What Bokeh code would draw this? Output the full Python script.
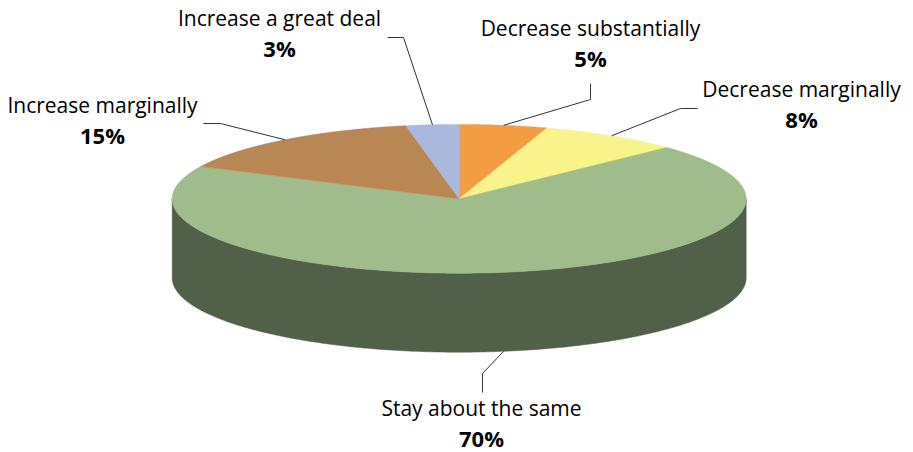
import numpy as np
from bokeh.plotting import figure
from bokeh.models import Range1d
from bokeh.core.properties import value
from bokeh.embed import file_html
from bokeh.resources import INLINE

# ---------------- data ----------------
categories = ["Decrease substantially", "Decrease marginally", "Stay about the same",
              "Increase marginally", "Increase a great deal"]
percents = [5, 8, 70, 15, 3]
pct_labels = ["5%", "8%", "70%", "15%", "3%"]

# ---------------- styles ----------------
top_colors = ["#F39C42", "#F9F38C", "#A0BC8C", "#B98754", "#A9B8DC"]
side_colors = ["#8C5A25", "#908A50", "#506049", "#6A4C2E", "#606A80"]

# ---------------- layout ----------------
W, H = 913, 452
CX, CY, RX, RY, DEPTH = 458.7, 198.3, 287.0, 74.4, 79.0

label_x = [590, 801, 481, 102, 279]
label_base = [27, 88, 407, 104, 17]
pct_gap = 30
# leader line elbows (from label toward the pie)
elbows = [
    [(590, 83), (590, 99)],
    [(697, 108), (680, 108)],
    [(482, 392), (482, 373)],
    [(203, 123), (220, 123)],
    [(387, 37), (403, 37)],
]

p = figure(width=W, height=H, output_backend="svg", toolbar_location=None,
           x_range=Range1d(0, W), y_range=Range1d(H, 0), min_border=0)
p.axis.visible = False
p.grid.visible = False
p.outline_line_color = None
p.background_fill_color = "white"
p.border_fill_color = "white"

total = float(sum(percents))
bounds = np.concatenate([[0.0], np.cumsum(percents) / total * 360.0])


def ex(t):
    return CX + RX * np.sin(np.radians(t))


def ey(t):
    return CY - RY * np.cos(np.radians(t))


# sides (front half only: 90..270 degrees)
for i in range(len(percents)):
    a0, a1 = max(bounds[i], 90.0), min(bounds[i + 1], 270.0)
    if a1 <= a0:
        continue
    t = np.linspace(a0, a1, 200)
    xs = np.concatenate([ex(t), ex(t[::-1])])
    ys = np.concatenate([ey(t), ey(t[::-1]) + DEPTH])
    p.patch(xs, ys, fill_color=side_colors[i], line_color=side_colors[i], line_width=0.5)

# top wedges
for i in range(len(percents)):
    t = np.linspace(bounds[i], bounds[i + 1], 300)
    xs = np.concatenate([[CX], ex(t)])
    ys = np.concatenate([[CY], ey(t)])
    p.patch(xs, ys, fill_color=top_colors[i], line_color=top_colors[i], line_width=0.5)

# leader lines
lx, ly = [], []
for i in range(len(percents)):
    mid = (bounds[i] + bounds[i + 1]) / 2.0
    ax, ay = ex(mid), ey(mid)
    if 90 < mid < 270:
        ay += DEPTH
    pts = elbows[i] + [(ax, ay)]
    lx.append([q[0] for q in pts])
    ly.append([q[1] for q in pts])
p.multi_line(lx, ly, line_color="#333333", line_width=1)

# labels
p.text(x=label_x, y=label_base, text=categories, text_align="center",
       text_baseline="alphabetic", text_font=value("Open Sans"),
       text_font_size="21px", text_color="#000000")
p.text(x=label_x, y=[b + pct_gap for b in label_base], text=pct_labels,
       text_align="center", text_baseline="alphabetic", text_font=value("Open Sans"),
       text_font_size="22px", text_font_style="bold", text_color="#000000")

open("out.html", "w").write(file_html(p, INLINE))
